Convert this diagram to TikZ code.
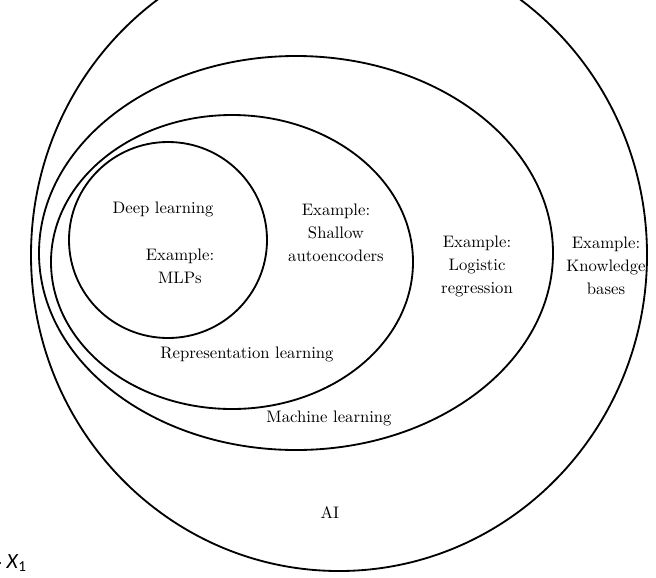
\documentclass[tikz,border=0pt]{standalone}
\usepackage{fontspec}
\newfontfamily\labelsans{Carlito}
\usepackage{tikz}
\usetikzlibrary{shapes}

\tikzset{set/.style={line width=1.1pt},
  txt/.style={align=center, font=\fontsize{10}{13.8}\selectfont, inner sep=0pt}}

\begin{document}
\begin{tikzpicture}[x=0.6pt, y=-0.6pt]
\useasboundingbox (0,0) rectangle (656,577);
\draw[set] (339,255) ellipse [x radius=308, y radius=316];
\draw[set] (296,253) ellipse [x radius=257, y radius=197];
\draw[set] (232,262) ellipse [x radius=181, y radius=147];
\draw[set] (168,240) ellipse [x radius=99, y radius=98];
\node[txt](dl) at (163,209) {Deep learning};
\node[txt](dlex) at (180,266) {Example:\\MLPs};
\node[txt](rlex) at (336,233) {Example:\\Shallow\\autoencoders};
\node[txt](rl) at (247,354) {Representation learning};
\node[txt](mlex) at (477,266) {Example:\\Logistic\\regression};
\node[txt](aiex) at (606,266) {Example:\\Knowledge\\bases};
\node[txt](ml) at (329,418) {Machine learning};
\node[txt](ai) at (330,513) {AI};
\node[anchor=west, inner sep=0pt, font=\labelsans\fontsize{13}{15}\selectfont](x1) at (-3,563) {$\cdot$\,\textit{X}\textsubscript{1}};
\end{tikzpicture}
\end{document}
